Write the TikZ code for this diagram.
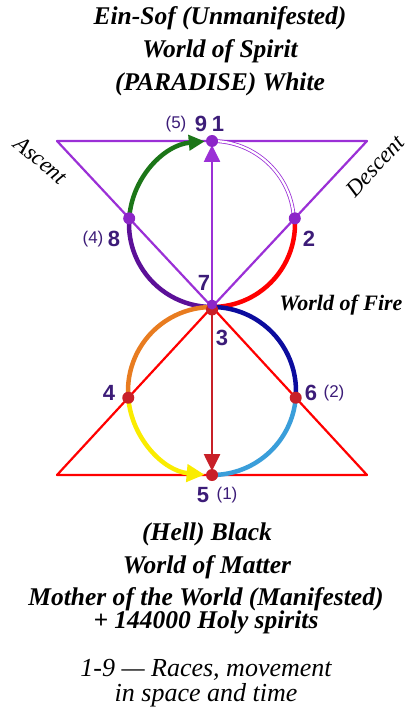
\documentclass[tikz,border=0pt]{standalone}
\usepackage{fontspec}
\setmainfont{Liberation Serif}
\newfontfamily\lblfont{Liberation Sans}
\usetikzlibrary{arrows.meta,calc}
\definecolor{violetln}{RGB}{155,48,214}
\definecolor{violetdk}{RGB}{92,16,152}
\definecolor{dotviolet}{RGB}{140,38,200}
\definecolor{greenarc}{RGB}{28,118,24}
\definecolor{orangearc}{RGB}{232,124,32}
\definecolor{yellowarc}{RGB}{250,236,0}
\definecolor{lightbluearc}{RGB}{58,158,218}
\definecolor{darkbluearc}{RGB}{12,12,158}
\definecolor{darkred}{RGB}{200,32,40}
\definecolor{numpurple}{RGB}{60,28,120}

\begin{document}
\begin{tikzpicture}[x=1pt, y=1pt,
    heading/.style={inner sep=0pt, anchor=base, font=\fontsize{25.5}{28}\selectfont\bfseries\itshape},
    legend/.style={inner sep=0pt, anchor=base, font=\fontsize{26}{28}\selectfont\itshape},
    sidenote/.style={inner sep=0pt, font=\fontsize{23}{25}\selectfont\itshape},
    numlbl/.style={inner sep=0pt, text=numpurple, font=\lblfont\bfseries\fontsize{22}{24}\selectfont},
    altlbl/.style={inner sep=0pt, text=numpurple, font=\lblfont\fontsize{17}{19}\selectfont},
    ringarc/.style={line width=4.5pt},
    tri/.style={line width=2.2pt, line join=round},
    dot/.style={circle, inner sep=0pt, minimum size=12pt},
    tip/.style={-{Triangle[length=17pt, width=16pt]}}
  ]
  \useasboundingbox (0,0) rectangle (410,-708);

  % Points on the two circles
  \coordinate (c1) at (212,-224);
  \coordinate (p1) at (212,-141);
  \coordinate (p7) at (212,-307);
  \coordinate (p8) at ($(c1)+(176.1:83)$);
  \coordinate (p2) at ($(c1)+(3.9:83)$);
  \coordinate (c2) at (212,-391);
  \coordinate (p5) at (212,-475);
  \coordinate (p4) at ($(c2)+(184.6:84)$);
  \coordinate (p6) at ($(c2)+(-4.6:84)$);

  % Triangles
  \coordinate (tl) at (57,-141);
  \coordinate (tr) at (367,-141);
  \coordinate (bl) at (57,-475);
  \coordinate (br) at (367,-475);
  \draw[tri, violetln] (tl) -- (tr) -- (p7) -- cycle;
  \draw[tri, red] (bl) -- (br) -- (p7) -- cycle;

  % Upper circle
  \draw[ringarc, violetdk] (p7) arc[start angle=270, end angle=176.1, radius=83];
  \draw[ringarc, greenarc, -{Triangle[length=16pt, width=15pt]}] (p8) arc[start angle=176.1, end angle=95, radius=83];
  \draw[violetln, line width=0.8pt, double=white, double distance=2.2pt] (p1) arc[start angle=90, end angle=3.9, radius=82];
  \draw[ringarc, red] (p2) arc[start angle=3.9, end angle=-90, radius=83];

  % Lower circle
  \draw[ringarc, orangearc] (p7) arc[start angle=90, end angle=184.6, radius=84];
  \draw[ringarc, yellowarc, -{Triangle[length=18pt, width=17pt]}] (p4) arc[start angle=184.6, end angle=265, radius=84];
  \draw[ringarc, lightbluearc] (p5) arc[start angle=270, end angle=355.4, radius=84];
  \draw[ringarc, darkbluearc] (p6) arc[start angle=355.4, end angle=450, radius=84];

  % Vertical arrows
  \draw[violetln, line width=2.6pt, tip, shorten >=4pt] (p7) -- (p1);
  \draw[darkred, line width=2.6pt, tip, shorten >=4pt] (p7) -- (p5);

  % Dots
  \node[dot, fill=dotviolet] (d1) at (p1) {};
  \node[dot, fill=dotviolet] (d8) at (p8) {};
  \node[dot, fill=dotviolet] (d2) at (p2) {};
  \node[dot, fill=darkred] (d3) at ($(p7)+(0,-2.5)$) {};
  \node[dot, fill=dotviolet, minimum size=10pt] (d7) at ($(p7)+(0,2.5)$) {};
  \node[dot, fill=darkred] (d4) at (p4) {};
  \node[dot, fill=darkred] (d6) at (p6) {};
  \node[dot, fill=darkred] (d5) at (p5) {};

  % Numbers
  \node[altlbl] (n5a) at (176,-124) {(5)};
  \node[numlbl] (n9) at (201,-124) {9};
  \node[numlbl] (n1) at (218,-124) {1};
  \node[altlbl] (n4a) at (93,-239) {(4)};
  \node[numlbl] (n8) at (114,-239) {8};
  \node[numlbl] (n2) at (309,-239) {2};
  \node[numlbl] (n7) at (204,-283) {7};
  \node[numlbl] (n3) at (222,-338) {3};
  \node[numlbl] (n4) at (109,-393) {4};
  \node[numlbl] (n6) at (311,-393) {6};
  \node[altlbl] (n2a) at (334,-393) {(2)};
  \node[numlbl] (n5) at (203,-495) {5};
  \node[altlbl] (n1a) at (227,-495) {(1)};

  % Side texts
  \node[sidenote, rotate=-40] (ascent) at (41,-160) {Ascent};
  \node[sidenote, rotate=47] (descent) at (375,-166) {Descent};
  \node[inner sep=0pt, font=\fontsize{22}{24}\selectfont\bfseries\itshape] (fire) at (341,-305) {World of Fire};

  % Titles
  \node[heading] (ttl1) at (220,-25) {Ein-Sof (Unmanifested)};
  \node[heading] (ttl2) at (220,-58) {World of Spirit};
  \node[heading] (ttl3) at (220,-91) {(PARADISE) White};
  \node[heading] (btm1) at (207,-540) {(Hell) Black};
  \node[heading] (btm2) at (207,-573) {World of Matter};
  \node[heading] (btm3) at (206,-605) {Mother of the World (Manifested)};
  \node[heading] (btm4) at (206,-628) {+ 144000 Holy spirits};
  \node[legend] (note1) at (206,-676) {1-9 --- Races, movement};
  \node[legend] (note2) at (206,-701) {in space and time};
\end{tikzpicture}
\end{document}
